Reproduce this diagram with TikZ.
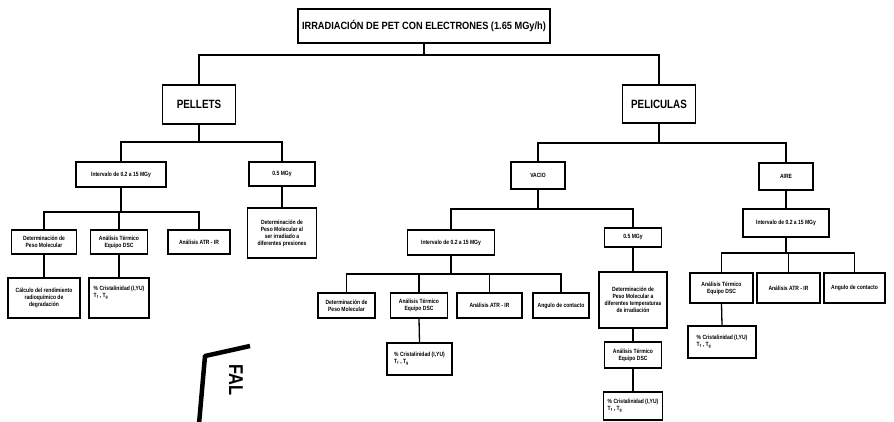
\documentclass[tikz,border=0pt]{standalone}
\usepackage{fontspec}
\newfontfamily\nar{Liberation Sans}[FakeStretch=0.82]
\newfontfamily\narw{Liberation Sans}[FakeStretch=0.88]
\begin{document}
\begin{tikzpicture}[x=1pt,y=-1pt,
  box/.style={draw, line width=1.3pt, align=center, inner sep=1pt, font=\nar\bfseries\fontsize{6.1}{7}\selectfont},
  big/.style={draw, line width=1.6pt, align=center, inner sep=1pt, font=\nar\bfseries\fontsize{12}{13}\selectfont},
  wire/.style={line width=1.3pt}]
\useasboundingbox[fill=white] (0,0) rectangle (894,422);
% root
\node[draw, line width=1.1pt, minimum width=252pt, minimum height=34pt, font=\narw\bfseries\fontsize{10.5}{12}\selectfont] (root) at (424,26) {IRRADIACIÓN DE PET CON ELECTRONES (1.65 MGy/h)};
\node[big, minimum width=73pt, minimum height=39pt] (pel) at (199,104.5) {PELLETS};
\node[big, minimum width=73pt, minimum height=38pt] (pec) at (659,104) {PELICULAS};
\coordinate (b1) at (424,55);
\draw[wire] (root.south) -- (b1);
\draw[wire] (pel.north) |- (b1) -| (pec.north);
% pellets branch
\node[box, minimum width=90pt, minimum height=25pt] (pint) at (121,174.5) {Intervalo de 0.2 a 15 MGy};
\node[box, minimum width=66pt, minimum height=24pt] (p05) at (282,174) {0.5 MGy};
\coordinate (b2) at (199,142);
\draw[wire] (pel.south) -- (b2);
\draw[wire] (pint.north) |- (b2) -| (p05.north);
\node[box, minimum width=69pt, minimum height=50pt] (ppres) at (282,233) {Determinación de\\Peso Molecular al\\ser irradiado a\\diferentes presiones};
\draw[wire] (p05.south) -- (ppres.north);
\node[box, minimum width=65pt, minimum height=24pt] (pdet) at (44,242) {Determinación de\\Peso Molecular};
\node[box, minimum width=57pt, minimum height=24pt] (pdsc) at (119,242) {Análisis Térmico\\Equipo DSC};
\node[box, minimum width=62pt, minimum height=24pt] (patr) at (199,242) {Análisis ATR - IR};
\coordinate (b3) at (121,212);
\draw[wire] (pint.south) -- (b3);
\draw[wire] (pdet.north) |- (b3) -| (patr.north);
\draw[wire] (pdsc.north) -- (pdsc.north |- b3);
\node[box, minimum width=72pt, minimum height=40pt] (pcal) at (44,298) {Cálculo del rendimiento\\radioquímico de\\degradación};
\node[box, align=left, minimum width=60pt, minimum height=40pt] (pcri) at (119,298) {\% Cristalinidad (I,YU)\\T\textsubscript{f} , T\textsubscript{g}\\[6pt]};
\draw[wire] (pdet.south) -- (pcal.north);
\draw[wire] (pdsc.south) -- (pcri.north);
% peliculas branch
\node[box, minimum width=54pt, minimum height=27pt] (vac) at (538,175.5) {VACIO};
\node[box, minimum width=54pt, minimum height=27pt] (aire) at (786,176.5) {AIRE};
\coordinate (b4) at (659,143);
\draw[wire] (pec.south) -- (b4);
\draw[wire] (vac.north) |- (b4) -| (aire.north);
% vacio
\node[box, minimum width=87pt, minimum height=25pt] (vint) at (451,242.5) {Intervalo de 0.2 a 15 MGy};
\node[box, minimum width=57pt, minimum height=19pt] (v05) at (633,237.5) {0.5 MGy};
\coordinate (b5) at (538,209);
\draw[wire] (vac.south) -- (b5);
\draw[wire] (vint.north) |- (b5) -| (v05.north);
\node[box, minimum width=68pt, minimum height=56pt] (vtem) at (633,300) {Determinación de\\Peso Molecular a\\diferentes temperaturas\\de irradiación};
\node[box, minimum width=57pt, minimum height=26pt] (vdsc2) at (633,355) {Análisis Térmico\\Equipo DSC};
\node[box, align=left, minimum width=59pt, minimum height=28pt] (vcri2) at (633,406) {\% Cristalinidad (I,YU)\\T\textsubscript{f} , T\textsubscript{g}};
\draw[wire] (v05.south) -- (vtem.north);
\draw[wire] (vtem.south) -- (vdsc2.north);
\draw[wire] (vdsc2.south) -- (vcri2.north);
\node[box, minimum width=57pt, minimum height=25pt] (vdet) at (346.5,305.5) {Determinación de\\Peso Molecular};
\node[box, minimum width=57pt, minimum height=25pt] (vdsc) at (419,305.5) {Análisis Térmico\\Equipo DSC};
\node[box, minimum width=65pt, minimum height=25pt] (vatr) at (489.5,305.5) {Análisis ATR - IR};
\node[box, minimum width=56pt, minimum height=25pt] (vang) at (561,305.5) {Angulo de contacto};
\coordinate (b6) at (451,274);
\draw[wire] (vint.south) -- (b6);
\draw[wire] (vdet.north) |- (b6) -| (vang.north);
\draw[wire] (vdsc.north) -- (vdsc.north |- b6);
\draw[wire] (vatr.north) -- (vatr.north |- b6);
\node[box, align=left, minimum width=65pt, minimum height=32pt] (vcri) at (419.5,359) {\% Cristalinidad (I,YU)\\T\textsubscript{f} , T\textsubscript{g}};
\draw[wire] (vdsc.south) -- (vcri.north);
% aire
\node[box, minimum width=86pt, minimum height=28pt] (aint) at (786,223) {Intervalo de 0.2 a 15 MGy};
\draw[wire] (aire.south) -- (aint.north);
\node[box, minimum width=63pt, minimum height=30pt] (adsc) at (721.5,288) {Análisis Térmico\\Equipo DSC};
\node[box, minimum width=63pt, minimum height=30pt] (aatr) at (788.5,288) {Análisis ATR - IR};
\node[box, minimum width=61pt, minimum height=30pt] (aang) at (854.5,288) {Angulo de contacto};
\coordinate (b7) at (786,253);
\draw[wire] (aint.south) -- (b7);
\draw[wire] (adsc.north) |- (b7) -| (aang.north);
\draw[wire] (aatr.north) -- (aatr.north |- b7);
\node[box, align=left, minimum width=68pt, minimum height=32pt] (acri) at (722,342) {\% Cristalinidad (I,YU)\\T\textsubscript{f} , T\textsubscript{g}};
\draw[wire] (adsc.south) -- (acri.north);
% stamp
\begin{scope}
\clip (0,0) rectangle (894,422);
\draw[line width=4.5pt, line join=round] (199,424) -- (205,356) -- (250,346);
\node[rotate=-90, anchor=north west, inner sep=0pt, font=\nar\bfseries\fontsize{20}{22}\selectfont] (stamp) at (243,364) {FAL};
\end{scope}
\end{tikzpicture}
\end{document}
